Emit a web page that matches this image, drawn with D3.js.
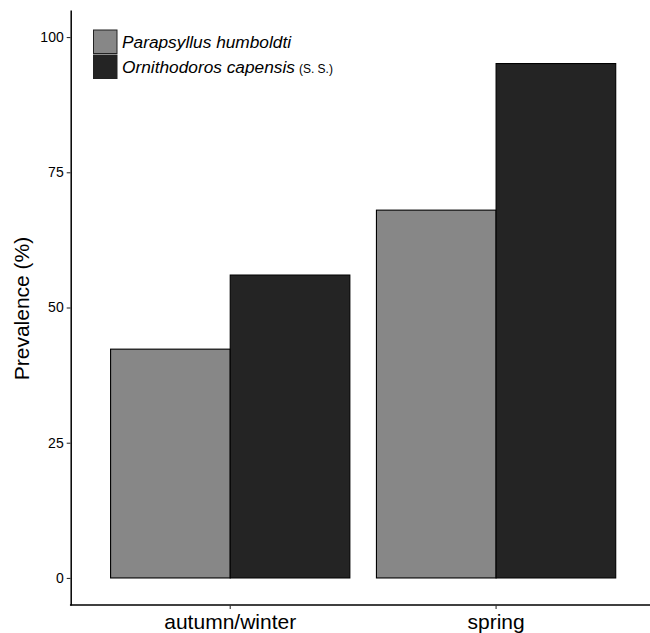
<!DOCTYPE html>
<html>
<head>
<meta charset="utf-8">
<script src="https://cdn.jsdelivr.net/npm/d3@7"></script>
<style>
  body { margin: 0; background: #fff; }
  text { font-family: "Liberation Sans", Arial, sans-serif; fill: #000; }
</style>
</head>
<body>
<div id="chart"></div>
<script>
// data
const seasons = ["autumn/winter", "spring"];
const species = ["Parapsyllus humboldti", "Ornithodoros capensis"];
const parapsyllus = [42.3, 68.0];
const ornithodoros = [56.0, 95.1];
const yTicks = [0, 25, 50, 75, 100];

const colors = ["#878787", "#242424"];
const values = [parapsyllus, ornithodoros];

const W = 650, H = 633;
const plotLeft = 70.7, plotBottom = 605, plotTop = 10;

const svg = d3.select("#chart").append("svg")
  .attr("width", W)
  .attr("height", H);

// scales
const y = d3.scaleLinear().domain([-5, 105]).range([plotBottom, plotTop]);
const x = d3.scaleBand()
  .domain(seasons)
  .range([plotLeft, 655.6])
  .paddingInner(0.1)
  .paddingOuter(0.15);
const xSub = d3.scaleBand()
  .domain(species)
  .range([0, x.bandwidth()]);

// bars
const rows = [];
seasons.forEach((s, i) => {
  species.forEach((sp, j) => {
    rows.push({ season: s, species: sp, value: values[j][i], color: colors[j] });
  });
});

svg.append("g").selectAll("rect")
  .data(rows)
  .enter().append("rect")
    .attr("x", d => x(d.season) + xSub(d.species))
    .attr("y", d => y(d.value))
    .attr("width", xSub.bandwidth())
    .attr("height", d => y(0) - y(d.value))
    .attr("fill", d => d.color)
    .attr("stroke", "#000")
    .attr("stroke-width", 1.1);

// y axis
const yAxis = svg.append("g")
  .attr("transform", `translate(${plotLeft},0)`)
  .call(d3.axisLeft(y).tickValues(yTicks).tickSize(4).tickSizeOuter(0).tickPadding(3));
yAxis.select(".domain").attr("stroke-width", 1.5);
yAxis.selectAll(".tick line").attr("stroke", "#333").attr("stroke-width", 1.1);
yAxis.selectAll(".tick text")
  .style("font-size", "14px")
  .attr("fill", "#000");

// x axis
const xAxis = svg.append("g")
  .attr("transform", `translate(0,${plotBottom})`)
  .call(d3.axisBottom(x).tickSize(4).tickSizeOuter(0).tickPadding(5));
xAxis.select(".domain").attr("d", `M${plotLeft - 0.75},0H${W}`).attr("stroke-width", 1.5);
xAxis.selectAll(".tick line").attr("stroke", "#333").attr("stroke-width", 1.1);
xAxis.selectAll(".tick text")
  .style("font-size", "21px")
  .attr("fill", "#000");

// y title
svg.append("text")
  .attr("transform", `translate(29,${(y(0) + y(100)) / 2 + 1}) rotate(-90)`)
  .attr("text-anchor", "middle")
  .style("font-size", "21px")
  .text("Prevalence (%)");

// legend
const legend = svg.selectAll(".legend")
  .data(species)
  .enter().append("g")
  .attr("class", "legend")
  .attr("transform", (d, i) => `translate(93.5,${30 + i * 25})`);

legend.append("rect")
  .attr("width", 23.5)
  .attr("height", 23.5)
  .attr("fill", (d, i) => colors[i])
  .attr("stroke", "#222")
  .attr("stroke-width", 1);

const legendText = legend.append("text")
  .attr("x", 28.5)
  .attr("y", 17.5)
  .style("font-size", "17.3px");
legendText.append("tspan")
  .style("font-style", "italic")
  .text(d => d);
legendText.filter((d, i) => i === 1).append("tspan")
  .attr("dx", 4)
  .style("font-size", "12px")
  .text("(S. S.)");
</script>
</body>
</html>
